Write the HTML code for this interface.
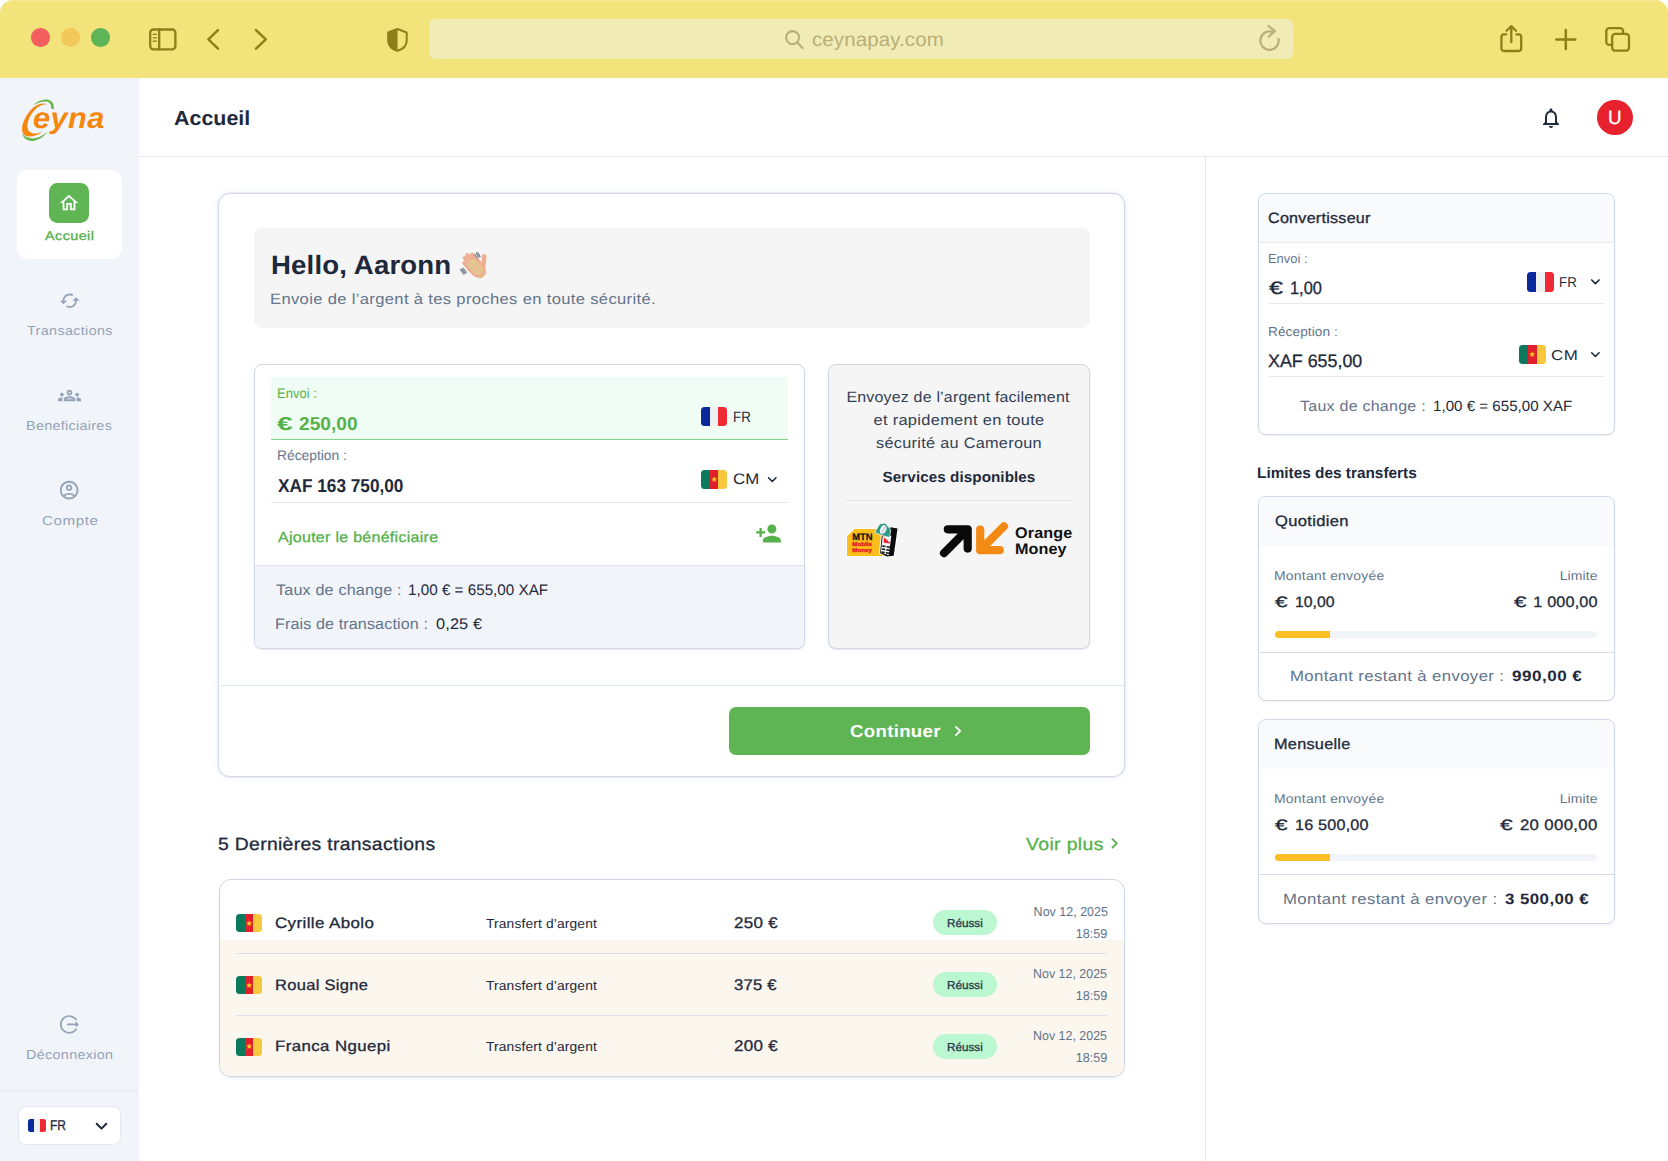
<!DOCTYPE html>
<html lang="fr">
<head>
<meta charset="utf-8">
<title>Ceyna Pay - Accueil</title>
<style>

*{box-sizing:border-box;margin:0;padding:0}
html,body{width:1668px;height:1161px;overflow:hidden;background:#fff}
body{font-family:"Liberation Sans",sans-serif;-webkit-font-smoothing:antialiased;text-rendering:geometricPrecision}
.page{position:relative;width:1668px;height:1161px;overflow:hidden;background:#fff}
.b{position:absolute;display:block}
.t{position:absolute;white-space:nowrap;display:block}
svg{position:absolute;overflow:visible;display:block}

</style>
</head>
<body>
<div class="page">

<!-- browser toolbar -->
<div class="b" style="left:0px;top:0px;width:1668px;height:78px;background:#f2e37a;border-radius:13px 13px 0 0;box-shadow:inset 0 1px 0 #f3e89a;"></div>
<div class="b" style="left:31.3px;top:28.3px;width:18.4px;height:18.4px;background:#f25f5e;border-radius:50%;"></div>
<div class="b" style="left:61.3px;top:28.3px;width:18.4px;height:18.4px;background:#f2c85a;border-radius:50%;"></div>
<div class="b" style="left:91.3px;top:28.3px;width:18.4px;height:18.4px;background:#5fb458;border-radius:50%;"></div>
<div class="b" style="left:429px;top:19.2px;width:864px;height:39.4px;background:#f1ebb6;border-radius:6px;"></div>

<!-- sidebar -->
<div class="b" style="left:0px;top:78px;width:139px;height:1083px;background:#f1f5f9;"></div>
<div class="b" style="left:17.2px;top:170.2px;width:104.5px;height:88.7px;background:#fff;border-radius:11px;"></div>
<div class="b" style="left:49.2px;top:183.2px;width:40.0px;height:40.0px;background:#5fb553;border-radius:8.5px;"></div>
<div class="b" style="left:0px;top:1090.5px;width:139px;height:1.0px;background:#e6ebf2;"></div>
<div class="b" style="left:18.1px;top:1106.3px;width:102.6px;height:39.0px;background:#fff;border:1px solid #e3e8f0;border-radius:8px;"></div>

<!-- header -->
<div class="b" style="left:139px;top:155.5px;width:1529px;height:1.0px;background:#e2e8f0;"></div>
<div class="b" style="left:1205px;top:156px;width:1px;height:1005px;background:#e2e8f0;"></div>
<div class="b" style="left:1597.2px;top:99.8px;width:35.6px;height:35.6px;background:#e8212e;border-radius:50%;"></div>

<!-- main card -->
<div class="b" style="left:218.4px;top:192.5px;width:906.8px;height:584.1px;background:#fff;border:1px solid #d3dbe8;border-radius:12px;box-shadow:0 0 0 .45px #dde4ee,0 0 7px rgba(100,116,139,.11);"></div>
<div class="b" style="left:253.6px;top:228.2px;width:836.4px;height:99.4px;background:#f5f5f5;border-radius:8px;"></div>
<div class="b" style="left:253.8px;top:363.8px;width:551.4px;height:285.0px;background:#fff;border:1px solid #cfd8e6;border-radius:8px;overflow:hidden;box-shadow:0 1px 2px rgba(100,116,139,.15);"><div class="b" style="left:0;right:0;top:199.8px;bottom:0;background:#f1f5f9;border-top:1px solid #dfe5ee"></div></div>
<div class="b" style="left:271.3px;top:376.6px;width:516.7px;height:63.2px;background:#f0fdf4;border-radius:4px 4px 0 0;border-bottom:1.3px solid #86d48a;"></div>
<div class="b" style="left:271.3px;top:501.6px;width:516.7px;height:1.0px;background:#e2e8f0;"></div>
<div class="b" style="left:827.5px;top:363.8px;width:262.3px;height:285.0px;background:#f5f5f5;border:1px solid #cfd8e6;border-radius:8px;box-shadow:0 1px 2px rgba(100,116,139,.15);"></div>
<div class="b" style="left:845px;top:500px;width:227px;height:1px;background:#e2e8f0;"></div>
<div class="b" style="left:219.5px;top:684.5px;width:904.7px;height:1.0px;background:#e2e8f0;"></div>
<div class="b" style="left:729px;top:706.6px;width:361px;height:48.2px;background:#5fb553;border-radius:7px;"></div>

<!-- transactions table -->
<div class="b" style="left:218.5px;top:879px;width:906.7px;height:197.8px;background:#fff;border:1px solid #cfd8e6;border-radius:12px;overflow:hidden;box-shadow:0 1px 2px rgba(100,116,139,.15);"><div class="b" style="left:0;right:0;top:60px;bottom:0;background:#fbf6ee"></div></div>
<div class="b" style="left:236px;top:953px;width:871.4px;height:1px;background:#d9e0ea;"></div>
<div class="b" style="left:236px;top:1014.6px;width:871.4px;height:1.0px;background:#d9e0ea;"></div>
<div class="b" style="left:933.2px;top:909.9px;width:63.9px;height:25.4px;background:#bbf7d0;border-radius:13px;"></div>
<div class="b" style="left:933.2px;top:972px;width:63.9px;height:25.4px;background:#bbf7d0;border-radius:13px;"></div>
<div class="b" style="left:933.2px;top:1033.8px;width:63.9px;height:25.4px;background:#bbf7d0;border-radius:13px;"></div>

<!-- right panel -->
<div class="b" style="left:1257.8px;top:192.8px;width:357.0px;height:242.0px;background:#fff;border:1px solid #cfd8e6;border-radius:8px;overflow:hidden;box-shadow:0 1px 2px rgba(100,116,139,.12);"><div class="b" style="left:0;right:0;top:0;height:49.6px;background:#f8fafc;border-bottom:1px solid #e2e8f0"></div></div>
<div class="b" style="left:1268.8px;top:303px;width:335.4px;height:1px;background:#e2e8f0;"></div>
<div class="b" style="left:1268.8px;top:375.6px;width:335.4px;height:1.0px;background:#e2e8f0;"></div>
<div class="b" style="left:1257.8px;top:496px;width:357.0px;height:205px;background:#fff;border:1px solid #cfd8e6;border-radius:8px;overflow:hidden;box-shadow:0 1px 2px rgba(100,116,139,.12);"><div class="b" style="left:0;right:0;top:0;height:48.600px;background:#f8fafc"></div></div>
<div class="b" style="left:1275.2px;top:631.4px;width:322.2px;height:7.0px;background:#f1f5f9;border-radius:4px;overflow:hidden;"><div class="b" style="left:0;top:0;bottom:0;width:55px;background:#fbbf24"></div></div>
<div class="b" style="left:1258.8px;top:651.6px;width:355.0px;height:1.0px;background:#d5dde8;"></div>
<div class="b" style="left:1257.8px;top:719px;width:357.0px;height:205px;background:#fff;border:1px solid #cfd8e6;border-radius:8px;overflow:hidden;box-shadow:0 1px 2px rgba(100,116,139,.12);"><div class="b" style="left:0;right:0;top:0;height:48.600px;background:#f8fafc"></div></div>
<div class="b" style="left:1275.2px;top:854.4px;width:322.2px;height:7.0px;background:#f1f5f9;border-radius:4px;overflow:hidden;"><div class="b" style="left:0;top:0;bottom:0;width:55px;background:#fbbf24"></div></div>
<div class="b" style="left:1258.8px;top:874.3000000000001px;width:355.0px;height:1.0px;background:#d5dde8;"></div>

<!-- toolbar icons -->
<svg style="left:0px;top:0px" width="1668" height="78" viewBox="0 0 1668 78" ><g fill="none" stroke="#8f7f1b" stroke-width="2.3" stroke-linecap="round" stroke-linejoin="round"><rect x="150.2" y="29.5" width="25.2" height="19.8" rx="3.2"/><path d="M159.2 29.5V49.3"/><path stroke-width="1.3" d="M153.2 34.4h3.3M153.2 37.8h3.3M153.2 41.2h3.3"/><path stroke-width="2.5" d="M218 30.2 208.4 39.4 218 48.6"/><path stroke-width="2.5" d="M256 30.2 265.8 39.4 256 48.6"/><path d="M1506.2 34.4h-2.4a2.4 2.4 0 0 0-2.4 2.4v11.8a2.4 2.4 0 0 0 2.4 2.4h15a2.4 2.4 0 0 0 2.4-2.4V36.800a2.4 2.4 0 0 0-2.4-2.4h-2.400"/><path d="M1511.300 42.200V26.400M1506.600 30.800 1511.300 26.100 1516 30.800"/><path stroke-width="2.5" d="M1556.300 39.400h19M1565.800 29.900v19"/><rect x="1606.300" y="28.100" width="16.800" height="16.800" rx="3"/><rect x="1612.200" y="33.900" width="16.800" height="16.800" rx="3" fill="#f2e37a"/></g><path d="M397.500 29 388.300 32.500V40.500C388.300 45.600 392.300 49.300 397.500 50.800 402.700 49.300 406.700 45.600 406.700 40.500V32.500Z" fill="none" stroke="#8f7f1b" stroke-width="2" stroke-linejoin="round"/><path d="M397.500 28.300 387.500 32V40.500C387.500 46 391.800 50.100 397.500 51.700Z" fill="#8f7f1b"/><g fill="none" stroke="#b9af78" stroke-width="2.1" stroke-linecap="round"><circle cx="792.600" cy="37.600" r="6.500"/><path d="M797.400 42.600 802.600 47.900"/><path stroke-width="2.200" stroke-linejoin="round" d="M1278.600 39.200A9.200 9.200 0 1 1 1271.800 31.700M1268.500 26 1274.900 31.200 1268.700 36.600"/></g></svg>

<!-- sidebar icons -->
<svg style="left:58.1px;top:192.36px" width="22" height="22" viewBox="0 0 24 24" ><path fill="#fff" d="m12 5.69 5 4.5V18h-2v-6H9v6H7v-7.81zM12 3 2 12h3v8h6v-6h2v6h6v-8h3z"/></svg>
<svg style="left:58.85px;top:289.85px" width="21.5" height="21.5" viewBox="0 0 24 24" ><path fill="#94a3b8" d="m19 8-4 4h3c0 3.310-2.690 6-6 6-1.010 0-1.970-.25-2.800-.7l-1.460 1.460C8.970 19.540 10.430 20 12 20c4.420 0 8-3.580 8-8h3zM6 12c0-3.310 2.690-6 6-6 1.010 0 1.970.25 2.800.7l1.460-1.460C15.030 4.460 13.570 4 12 4c-4.420 0-8 3.580-8 8H1l4 4 4-4z"/></svg>
<svg style="left:58.0px;top:384.1px" width="23" height="23" viewBox="0 0 24 24" ><path fill="#94a3b8" d="M4 13c1.100 0 2-.9 2-2s-.9-2-2-2-2 .9-2 2 .9 2 2 2m1.130 1.100c-.37-.06-.74-.1-1.130-.1-.99 0-1.930.21-2.780.58C.48 14.900 0 15.620 0 16.430V18h4.500v-1.610c0-.83.23-1.610.63-2.290M20 13c1.100 0 2-.9 2-2s-.9-2-2-2-2 .9-2 2 .9 2 2 2m4 3.430c0-.81-.48-1.530-1.220-1.850-.85-.37-1.790-.58-2.780-.58-.39 0-.76.040-1.130.1.400.68.630 1.460.630 2.290V18H24zm-7.760-2.780c-1.170-.52-2.610-.9-4.240-.9s-3.070.39-4.240.9C6.680 14.130 6 15.210 6 16.390V18h12v-1.610c0-1.180-.68-2.260-1.760-2.740M8.070 16c.09-.23.13-.39.910-.69.970-.38 1.990-.56 3.020-.56s2.050.18 3.020.56c.77.300.81.460.91.690zM12 8c.55 0 1 .45 1 1s-.45 1-1 1-1-.45-1-1 .45-1 1-1m0-2c-1.660 0-3 1.340-3 3s1.340 3 3 3 3-1.340 3-3-1.340-3-3-3"/></svg>
<svg style="left:58.35px;top:479.05px" width="22.3" height="22.3" viewBox="0 0 24 24" ><path fill="#94a3b8" d="M12 2C6.480 2 2 6.480 2 12s4.480 10 10 10 10-4.480 10-10S17.520 2 12 2M7.350 18.500C8.660 17.560 10.260 17 12 17s3.340.56 4.650 1.500c-1.310.94-2.910 1.500-4.650 1.500s-3.340-.56-4.650-1.500m10.790-1.380C16.450 15.800 14.320 15 12 15s-4.450.8-6.140 2.120C4.700 15.730 4 13.950 4 12c0-4.420 3.580-8 8-8s8 3.580 8 8c0 1.950-.7 3.730-1.860 5.120M12 6c-1.930 0-3.500 1.570-3.500 3.500S10.070 13 12 13s3.500-1.570 3.500-3.500S13.930 6 12 6m0 5c-.83 0-1.500-.67-1.500-1.500S11.170 8 12 8s1.500.67 1.500 1.500S12.830 11 12 11"/></svg>
<svg style="left:58px;top:1013px" width="24" height="24" viewBox="0 0 24 24" ><g fill="none" stroke="#94a3b8" stroke-width="1.7" stroke-linecap="round" stroke-linejoin="round"><path d="M18.100 6.600A8.400 8.400 0 1 0 18.100 16.200"/><path d="M9.800 11.400h9.200"/></g><path fill="#94a3b8" d="M17.600 8.300 20.900 11.400 17.600 14.500Z"/></svg>
<svg style="left:1539.0px;top:105.55px" width="24" height="24" viewBox="0 0 24 24" ><path fill="#1e293b" d="M12 22c1.100 0 2-.9 2-2h-4c0 1.100.9 2 2 2m6-6v-5c0-3.070-1.630-5.640-4.500-6.320V4c0-.83-.67-1.500-1.500-1.500s-1.500.67-1.500 1.500v.68C7.640 5.360 6 7.920 6 11v5l-2 2v1h16v-1zm-2 1H8v-6c0-2.480 1.510-4.500 4-4.500s4 2.020 4 4.500z"/></svg>
<svg style="left:754.5px;top:520.1px" width="27" height="27" viewBox="0 0 24 24" ><path fill="#55b14a" d="M15 12c2.210 0 4-1.790 4-4s-1.790-4-4-4-4 1.790-4 4 1.790 4 4 4m-9-2V7H4v3H1v2h3v3h2v-3h3v-2zm9 4c-2.670 0-8 1.340-8 4v2h16v-2c0-2.660-5.330-4-8-4"/></svg>
<svg style="left:0px;top:0px" width="1" height="1" viewBox="0 0 1 1" ><path d="M96.70 1123.80 101.50 1128.60 106.30 1123.80" fill="none" stroke="#1e293b" stroke-width="2" stroke-linecap="round" stroke-linejoin="round"/></svg>
<svg style="left:0px;top:0px" width="1" height="1" viewBox="0 0 1 1" ><path d="M768.60 477.75 772.30 481.45 776.00 477.75" fill="none" stroke="#1e293b" stroke-width="1.6" stroke-linecap="round" stroke-linejoin="round"/></svg>
<svg style="left:0px;top:0px" width="1" height="1" viewBox="0 0 1 1" ><path d="M1591.70 279.95 1595.40 283.65 1599.10 279.95" fill="none" stroke="#1e293b" stroke-width="1.6" stroke-linecap="round" stroke-linejoin="round"/></svg>
<svg style="left:0px;top:0px" width="1" height="1" viewBox="0 0 1 1" ><path d="M1591.70 352.75 1595.40 356.45 1599.10 352.75" fill="none" stroke="#1e293b" stroke-width="1.6" stroke-linecap="round" stroke-linejoin="round"/></svg>
<svg style="left:0px;top:0px" width="1" height="1" viewBox="0 0 1 1" ><path d="M955.90 726.80 960.10 731.00 955.90 735.20" fill="none" stroke="#fff" stroke-width="1.8" stroke-linecap="round" stroke-linejoin="round"/></svg>
<svg style="left:0px;top:0px" width="1" height="1" viewBox="0 0 1 1" ><path d="M1112.45 839.10 1116.75 843.40 1112.45 847.70" fill="none" stroke="#55b14a" stroke-width="1.8" stroke-linecap="round" stroke-linejoin="round"/></svg>

<!-- flags -->
<div class="b" style="left:28.4px;top:1119.3px;width:18.1px;height:12.7px;border-radius:2.5px;overflow:hidden;background:linear-gradient(90deg,#0a2a9c 0 34%,#eef0f2 34% 66%,#ee2a35 66% 100%);"></div>
<div class="b" style="left:700.6px;top:406.6px;width:26.4px;height:19.2px;border-radius:3.5px;overflow:hidden;background:linear-gradient(90deg,#0a2a9c 0 34%,#eef0f2 34% 66%,#ee2a35 66% 100%);"></div>
<div class="b" style="left:700.6px;top:469.8px;width:26.4px;height:18.8px;border-radius:3.5px;overflow:hidden;background:linear-gradient(90deg,#0b7a5c 0 34%,#e21f2d 34% 66%,#f7c73e 66% 100%);"><svg style="left:10.00px;top:6.20px" width="6.4" height="6.4" viewBox="0 0 10 10"><path fill="#fcd116" d="M5 0.300 6.200 3.700 9.800 3.800 6.900 6 8 9.500 5 7.400 2 9.500 3.100 6 .2 3.800 3.800 3.700Z"/></svg></div>
<div class="b" style="left:1526.5px;top:271.8px;width:27.0px;height:20.0px;border-radius:3.5px;overflow:hidden;background:linear-gradient(90deg,#0a2a9c 0 34%,#eef0f2 34% 66%,#ee2a35 66% 100%);"></div>
<div class="b" style="left:1518.6px;top:345px;width:27.0px;height:18.6px;border-radius:3.5px;overflow:hidden;background:linear-gradient(90deg,#0b7a5c 0 34%,#e21f2d 34% 66%,#f7c73e 66% 100%);"><svg style="left:10.30px;top:6.10px" width="6.4" height="6.4" viewBox="0 0 10 10"><path fill="#fcd116" d="M5 0.300 6.200 3.700 9.800 3.800 6.900 6 8 9.500 5 7.400 2 9.500 3.100 6 .2 3.800 3.800 3.700Z"/></svg></div>
<div class="b" style="left:236px;top:914px;width:26.4px;height:18px;border-radius:3.5px;overflow:hidden;background:linear-gradient(90deg,#0b7a5c 0 34%,#e21f2d 34% 66%,#f7c73e 66% 100%);"><svg style="left:10.00px;top:5.80px" width="6.4" height="6.4" viewBox="0 0 10 10"><path fill="#fcd116" d="M5 0.300 6.200 3.700 9.800 3.800 6.900 6 8 9.500 5 7.400 2 9.500 3.100 6 .2 3.800 3.800 3.700Z"/></svg></div>
<div class="b" style="left:236px;top:976px;width:26.4px;height:18px;border-radius:3.5px;overflow:hidden;background:linear-gradient(90deg,#0b7a5c 0 34%,#e21f2d 34% 66%,#f7c73e 66% 100%);"><svg style="left:10.00px;top:5.80px" width="6.4" height="6.4" viewBox="0 0 10 10"><path fill="#fcd116" d="M5 0.300 6.200 3.700 9.800 3.800 6.900 6 8 9.500 5 7.400 2 9.500 3.100 6 .2 3.800 3.800 3.700Z"/></svg></div>
<div class="b" style="left:236px;top:1037.5px;width:26.4px;height:18.0px;border-radius:3.5px;overflow:hidden;background:linear-gradient(90deg,#0b7a5c 0 34%,#e21f2d 34% 66%,#f7c73e 66% 100%);"><svg style="left:10.00px;top:5.80px" width="6.4" height="6.4" viewBox="0 0 10 10"><path fill="#fcd116" d="M5 0.300 6.200 3.700 9.800 3.800 6.900 6 8 9.500 5 7.400 2 9.500 3.100 6 .2 3.800 3.800 3.700Z"/></svg></div>

<!-- ceyna logo -->
<svg style="left:0px;top:0px" width="1" height="1" viewBox="0 0 1 1" role="img" aria-label="Ceyna"><path fill="#f5870f" d="M47.600 104.300C43.500 102.600 38.400 103.200 33.600 107.300 28.400 111.700 23.400 119.600 22.200 126.600 21.300 132.400 23.700 136.300 28.800 136.600 33.400 136.800 38.400 135 42.600 131.800 38.400 133.400 34.900 134 32.300 133.200 28.500 132 26.800 128.900 27.400 124.600 28.200 118.700 32 112.300 36.800 108.100 40.100 105.200 43.900 104 47.600 104.300Z"/><path fill="#63b54a" d="M33.200 105C37 101.500 42.400 99.300 46.800 99.600 51.800 100 54.300 103.800 53.800 109.400L51.200 108.600C51.600 104.500 49.800 101.900 46.400 101.500 42.600 101 37.600 102.600 33.200 105Z"/><path fill="#63b54a" d="M22.300 133.600C23 137.800 26.300 140.600 31.300 140.900 37.200 141.200 43.600 137.400 48 131.300 43.600 135.600 37.800 138.600 32.400 138.400 27.600 138.200 24 136.500 22.300 133.600Z"/></svg>

<!-- wave hand -->
<svg style="left:0px;top:0px" width="1" height="1" viewBox="0 0 1 1" ><g transform="translate(476.600 268.300) rotate(-42)"><g fill="#eeae91"><rect x="-7.700" y="-14.200" width="3.900" height="14" rx="1.950"/><rect x="-3.850" y="-17.600" width="3.900" height="17" rx="1.950"/><rect x="0" y="-18" width="3.900" height="17" rx="1.950"/><rect x="3.850" y="-15.200" width="3.900" height="14" rx="1.950"/><path d="M-7.700 -6h15.450v8.200a7.700 7.700 0 0 1-15.450 0z"/><rect x="5.200" y="-8.800" width="4.600" height="13" rx="2.300" transform="rotate(47 7.500 2)"/></g><g fill="#dfd090" opacity=".62"><rect x="-5.200" y="-10" width="10.500" height="17" rx="4.500"/></g><path d="M-4.500 8.900a7.700 7.700 0 0 0 9.600 -.3" fill="none" stroke="#c9b03a" stroke-width="1.100" opacity=".75"/></g><g fill="none" stroke="#5d6878" stroke-width="1.050" stroke-linecap="round" opacity=".9"><path d="M474.800 254.200 477.400 258M476.200 252.800 479.100 257.200M477.700 252.500 480.200 256.700"/><path d="M460.300 269.700 464 274.100M461.700 268.900 465.300 273.400M463 268.200 466.500 272.500"/></g></svg>

<!-- service logos -->
<svg style="left:845px;top:522px" width="54" height="37" viewBox="0 0 54 37" ><path fill="#fdbe1b" stroke="#fff" stroke-width="1.6" stroke-linejoin="round" d="M2 14.300 9.500 7H38.500V33.900H2Z"/><path fill="#fdbe1b" d="M2 14.300 9.500 7H38.500V33.900H2Z"/><text x="7.300" y="18" font-family="Liberation Sans,sans-serif" font-weight="700" font-size="9.400" fill="#15110a" stroke="#15110a" stroke-width=".25">MTN</text><text x="7.300" y="24" font-family="Liberation Sans,sans-serif" font-weight="700" font-size="5.700" fill="#e6212b" stroke="#e6212b" stroke-width=".35" textLength="19.600" lengthAdjust="spacingAndGlyphs">Mobile</text><text x="7.300" y="30" font-family="Liberation Sans,sans-serif" font-weight="700" font-size="5.700" fill="#e6212b" stroke="#e6212b" stroke-width=".35" textLength="19.600" lengthAdjust="spacingAndGlyphs">Money</text><path fill="#fff" stroke="#fff" stroke-width="2" stroke-linejoin="round" d="M36.800 13.400 45.800 5.200 52.500 6.400 48.700 33.700 42 34.600 35.100 31.200Z"/><path fill="#0b0b0d" d="M36.800 13.400 45.800 5.200 52.500 6.400 48.700 33.700 42 34.600 35.100 31.200Z"/><path fill="#f3f5f7" d="M37.700 14.300 46.300 13.800 43.800 33.200 35.900 30.600Z"/><path fill="#2f9b86" stroke="#fff" stroke-width=".7" d="M29.700 10.500 34.700 1.900 40.100 1 45.800 7.600 44.600 15.500 36.800 13.400Z"/><ellipse cx="38.200" cy="7.600" rx="3" ry="4.600" transform="rotate(24 38.200 7.600)" fill="#eef2f3"/><path fill="#b9c4cc" d="M36.400 10.800 40.300 3.800 41.100 4.300 37.200 11.300Z"/><path fill="#ea232d" d="M39 15.300 45.800 21.500 38.600 20.700Z"/><g fill="#121216"><path d="M37.400 23.200 40.600 23.700 40.400 25.300 37.200 24.800Z"/><path d="M41.700 23.900 45.200 24.500 45 26.100 41.500 25.500Z"/><path d="M37 26.200 40.200 26.700 40 28.300 36.800 27.800Z"/><path d="M41.300 26.900 44.800 27.500 44.600 29.100 41.100 28.500Z"/><path d="M36.600 29.200 39.800 29.700 39.600 31.200 36.400 30.700Z"/><path d="M40.900 29.900 44.400 30.500 44.200 32.100 40.700 31.500Z"/></g></svg>
<svg style="left:0px;top:0px" width="1" height="1" viewBox="0 0 1 1" ><g fill="none" stroke-width="8.200" stroke-linecap="round" stroke-linejoin="round"><path stroke="#0a0a0a" d="M944 553.200 967.400 529.600M947.800 529.300H967.700V548.600"/><path stroke="#f28a13" d="M1003.900 526.400 980.200 550.200M980.200 529.600V550.200H999.800"/></g></svg>

<!-- text layer -->
<span class="t" style="top:26.95px;font-size:19.48px;line-height:27px;color:#b9af78;left:811.50px;transform-origin:0 50%;transform:scaleX(1.0489);letter-spacing:0.137px;">ceynapay.com</span>
<span class="t" style="top:98.43px;font-size:29.36px;line-height:41px;color:#f5870f;font-weight:700;font-style:italic;left:33.40px;transform-origin:0 50%;transform:scaleX(1.0459);letter-spacing:0.448px;">eyna</span>
<span class="t" style="top:227.22px;font-size:12.65px;line-height:18px;color:#55b14a;left:45.35px;transform-origin:0 50%;transform:scaleX(1.1419);letter-spacing:0.343px;-webkit-text-stroke:0.3px currentColor;">Accueil</span>
<span class="t" style="top:322.32px;font-size:12.94px;line-height:18px;color:#94a3b8;left:26.95px;transform-origin:0 50%;transform:scaleX(1.1129);letter-spacing:0.297px;">Transactions</span>
<span class="t" style="top:417.32px;font-size:12.94px;line-height:18px;color:#94a3b8;left:26.44px;transform-origin:0 50%;transform:scaleX(1.1143);letter-spacing:0.248px;">Beneficiaires</span>
<span class="t" style="top:512.12px;font-size:12.94px;line-height:18px;color:#94a3b8;left:41.55px;transform-origin:0 50%;transform:scaleX(1.1752);letter-spacing:0.450px;">Compte</span>
<span class="t" style="top:1045.52px;font-size:12.94px;line-height:18px;color:#94a3b8;left:25.76px;transform-origin:0 50%;transform:scaleX(1.1105);letter-spacing:0.290px;">Déconnexion</span>
<span class="t" style="top:1115.41px;font-size:14.1px;line-height:20px;color:#1e293b;left:50.00px;transform-origin:0 50%;transform:scaleX(0.8511);-webkit-text-stroke:0.3px currentColor;">FR</span>
<span class="t" style="top:104.95px;font-size:20.35px;line-height:28px;color:#1e293b;font-weight:700;left:173.65px;transform-origin:0 50%;transform:scaleX(1.0503);letter-spacing:0.046px;">Accueil</span>
<span class="t" style="top:105.40px;font-size:19.33px;line-height:27px;color:#fff;left:1608.40px;transform-origin:0 50%;transform:scaleX(0.9736);-webkit-text-stroke:0.3px currentColor;">U</span>
<span class="t" style="top:246.54px;font-size:26.45px;line-height:37px;color:#1e293b;font-weight:700;left:270.60px;transform-origin:0 50%;transform:scaleX(1.0438);letter-spacing:0.145px;">Hello, Aaronn</span>
<span class="t" style="top:288.71px;font-size:14.97px;line-height:21px;color:#64748b;left:270.11px;transform-origin:0 50%;transform:scaleX(1.1085);letter-spacing:0.300px;">Envoie de l’argent à tes proches en toute sécurité.</span>
<span class="t" style="top:383.91px;font-size:13.81px;line-height:19px;color:#55b14a;left:277.00px;transform-origin:0 50%;transform:scaleX(0.9439);">Envoi :</span>
<span class="t" style="top:410.84px;font-size:18.6px;line-height:26px;color:#55b14a;font-weight:700;left:277.32px;transform-origin:0 50%;transform:scaleX(1.5168);">€</span>
<span class="t" style="top:410.76px;font-size:18.6px;line-height:26px;color:#55b14a;font-weight:700;left:298.68px;transform-origin:0 50%;transform:scaleX(1.0296);">250,00</span>
<span class="t" style="top:406.56px;font-size:14.97px;line-height:21px;color:#1e293b;left:733.30px;transform-origin:0 50%;transform:scaleX(0.8889);">FR</span>
<span class="t" style="top:446.11px;font-size:13.81px;line-height:19px;color:#64748b;left:277.00px;transform-origin:0 50%;transform:scaleX(1.0007);">Réception :</span>
<span class="t" style="top:473.07px;font-size:18.6px;line-height:26px;color:#1e293b;font-weight:700;left:277.53px;transform-origin:0 50%;transform:scaleX(0.9262);">XAF 163 750,00</span>
<span class="t" style="top:469.37px;font-size:15.12px;line-height:21px;color:#1e293b;left:732.76px;transform-origin:0 50%;transform:scaleX(1.1118);letter-spacing:0.090px;">CM</span>
<span class="t" style="top:528.22px;font-size:14.53px;line-height:20px;color:#55b14a;left:278.09px;transform-origin:0 50%;transform:scaleX(1.1013);letter-spacing:0.261px;-webkit-text-stroke:0.3px currentColor;">Ajouter le bénéficiaire</span>
<span class="t" style="top:579.79px;font-size:15.33px;line-height:21px;color:#64748b;left:276.45px;transform-origin:0 50%;transform:scaleX(1.0564);letter-spacing:0.139px;">Taux de change :</span>
<span class="t" style="top:579.79px;font-size:15.33px;line-height:21px;color:#1e293b;left:408.12px;transform-origin:0 50%;transform:scaleX(0.9937);">1,00 € = 655,00 XAF</span>
<span class="t" style="top:614.39px;font-size:15.33px;line-height:21px;color:#64748b;left:275.00px;transform-origin:0 50%;transform:scaleX(1.0526);letter-spacing:0.101px;">Frais de transaction :</span>
<span class="t" style="top:614.39px;font-size:15.33px;line-height:21px;color:#1e293b;left:435.83px;transform-origin:0 50%;transform:scaleX(1.0669);letter-spacing:0.119px;">0,25 €</span>
<span class="t" style="top:387.31px;font-size:14.97px;line-height:21px;color:#334155;left:958.23px;transform:translateX(-50%) scaleX(1.0660);letter-spacing:0.184px;">Envoyez de l’argent facilement</span>
<span class="t" style="top:410.31px;font-size:14.97px;line-height:21px;color:#334155;left:958.60px;transform:translateX(-50%) scaleX(1.0980);letter-spacing:0.270px;">et rapidement en toute</span>
<span class="t" style="top:433.06px;font-size:14.97px;line-height:21px;color:#334155;left:958.53px;transform:translateX(-50%) scaleX(1.0875);letter-spacing:0.261px;">sécurité au Cameroun</span>
<span class="t" style="top:468.49px;font-size:14.83px;line-height:21px;color:#1e293b;font-weight:700;left:958.87px;transform:translateX(-50%) scaleX(1.0287);letter-spacing:0.050px;">Services disponibles</span>
<span class="t" style="top:526.83px;font-size:15.26px;line-height:14px;color:#111;font-weight:700;left:1015.14px;transform-origin:0 50%;transform:scaleX(1.0611);letter-spacing:0.121px;">Orange</span>
<span class="t" style="top:542.91px;font-size:15.26px;line-height:14px;color:#111;font-weight:700;left:1015.03px;transform-origin:0 50%;transform:scaleX(1.0601);letter-spacing:0.098px;">Money</span>
<span class="t" style="top:718.91px;font-size:17.3px;line-height:24px;color:#fff;font-weight:700;left:850.26px;transform-origin:0 50%;transform:scaleX(1.0794);letter-spacing:0.273px;">Continuer</span>
<span class="t" style="top:832.36px;font-size:17.73px;line-height:25px;color:#1e293b;left:217.65px;transform-origin:0 50%;transform:scaleX(1.0914);letter-spacing:0.299px;-webkit-text-stroke:0.3px currentColor;">5 Dernières transactions</span>
<span class="t" style="top:831.96px;font-size:17.44px;line-height:24px;color:#55b14a;left:1025.66px;transform-origin:0 50%;transform:scaleX(1.1121);letter-spacing:0.338px;-webkit-text-stroke:0.3px currentColor;">Voir plus</span>
<span class="t" style="top:912.71px;font-size:14.97px;line-height:21px;color:#1e293b;left:275.23px;transform-origin:0 50%;transform:scaleX(1.1320);letter-spacing:0.342px;-webkit-text-stroke:0.3px currentColor;">Cyrille Abolo</span>
<span class="t" style="top:914.87px;font-size:13.08px;line-height:18px;color:#1e293b;left:485.79px;transform-origin:0 50%;transform:scaleX(1.0563);letter-spacing:0.130px;">Transfert d’argent</span>
<span class="t" style="top:913.06px;font-size:15.41px;line-height:22px;color:#1e293b;left:734.39px;transform-origin:0 50%;transform:scaleX(1.1005);letter-spacing:0.265px;-webkit-text-stroke:0.3px currentColor;">250 €</span>
<span class="t" style="top:916.02px;font-size:11.48px;line-height:16px;color:#27374a;left:947.32px;transform-origin:0 50%;transform:scaleX(1.0213);-webkit-text-stroke:0.3px currentColor;">Réussi</span>
<span class="t" style="top:902.72px;font-size:12.94px;line-height:18px;color:#64748b;right:560.27px;transform-origin:100% 50%;transform:scaleX(0.9659);">Nov 12, 2025</span>
<span class="t" style="top:925.02px;font-size:12.94px;line-height:18px;color:#64748b;right:560.40px;transform-origin:100% 50%;transform:scaleX(0.9773);">18:59</span>
<span class="t" style="top:974.51px;font-size:14.97px;line-height:21px;color:#1e293b;left:274.90px;transform-origin:0 50%;transform:scaleX(1.1023);letter-spacing:0.280px;-webkit-text-stroke:0.3px currentColor;">Roual Signe</span>
<span class="t" style="top:976.67px;font-size:13.08px;line-height:18px;color:#1e293b;left:485.79px;transform-origin:0 50%;transform:scaleX(1.0563);letter-spacing:0.130px;">Transfert d’argent</span>
<span class="t" style="top:974.86px;font-size:15.41px;line-height:22px;color:#1e293b;left:734.29px;transform-origin:0 50%;transform:scaleX(1.0817);letter-spacing:0.198px;-webkit-text-stroke:0.3px currentColor;">375 €</span>
<span class="t" style="top:977.82px;font-size:11.48px;line-height:16px;color:#27374a;left:947.32px;transform-origin:0 50%;transform:scaleX(1.0213);-webkit-text-stroke:0.3px currentColor;">Réussi</span>
<span class="t" style="top:964.62px;font-size:12.94px;line-height:18px;color:#64748b;right:560.84px;transform-origin:100% 50%;transform:scaleX(0.9609);">Nov 12, 2025</span>
<span class="t" style="top:986.92px;font-size:12.94px;line-height:18px;color:#64748b;right:560.40px;transform-origin:100% 50%;transform:scaleX(0.9773);">18:59</span>
<span class="t" style="top:1035.71px;font-size:14.97px;line-height:21px;color:#1e293b;left:275.03px;transform-origin:0 50%;transform:scaleX(1.1234);letter-spacing:0.375px;-webkit-text-stroke:0.3px currentColor;">Franca Nguepi</span>
<span class="t" style="top:1037.87px;font-size:13.08px;line-height:18px;color:#1e293b;left:485.79px;transform-origin:0 50%;transform:scaleX(1.0563);letter-spacing:0.130px;">Transfert d’argent</span>
<span class="t" style="top:1036.46px;font-size:15.41px;line-height:22px;color:#1e293b;left:734.40px;transform-origin:0 50%;transform:scaleX(1.1003);letter-spacing:0.265px;-webkit-text-stroke:0.3px currentColor;">200 €</span>
<span class="t" style="top:1039.77px;font-size:11.48px;line-height:16px;color:#27374a;left:947.32px;transform-origin:0 50%;transform:scaleX(1.0213);-webkit-text-stroke:0.3px currentColor;">Réussi</span>
<span class="t" style="top:1027.32px;font-size:12.94px;line-height:18px;color:#64748b;right:560.84px;transform-origin:100% 50%;transform:scaleX(0.9609);">Nov 12, 2025</span>
<span class="t" style="top:1048.72px;font-size:12.94px;line-height:18px;color:#64748b;right:560.40px;transform-origin:100% 50%;transform:scaleX(0.9773);">18:59</span>
<span class="t" style="top:207.91px;font-size:14.97px;line-height:21px;color:#1e293b;left:1267.97px;transform-origin:0 50%;transform:scaleX(1.0776);letter-spacing:0.226px;-webkit-text-stroke:0.3px currentColor;">Convertisseur</span>
<span class="t" style="top:250.32px;font-size:12.94px;line-height:18px;color:#64748b;left:1268.42px;transform-origin:0 50%;transform:scaleX(0.9978);">Envoi :</span>
<span class="t" style="top:276.34px;font-size:18.02px;line-height:25px;color:#1e293b;left:1268.55px;transform-origin:0 50%;transform:scaleX(1.3942);-webkit-text-stroke:0.3px currentColor;">€</span>
<span class="t" style="top:276.26px;font-size:18.02px;line-height:25px;color:#1e293b;left:1290.44px;transform-origin:0 50%;transform:scaleX(0.9098);-webkit-text-stroke:0.3px currentColor;">1,00</span>
<span class="t" style="top:272.67px;font-size:14.24px;line-height:20px;color:#1e293b;left:1559.08px;transform-origin:0 50%;transform:scaleX(0.9382);">FR</span>
<span class="t" style="top:322.52px;font-size:12.94px;line-height:18px;color:#64748b;left:1268.36px;transform-origin:0 50%;transform:scaleX(1.0564);letter-spacing:0.061px;">Réception :</span>
<span class="t" style="top:349.26px;font-size:18.02px;line-height:25px;color:#1e293b;left:1268.39px;transform-origin:0 50%;transform:scaleX(0.9911);-webkit-text-stroke:0.3px currentColor;">XAF 655,00</span>
<span class="t" style="top:345.82px;font-size:14.24px;line-height:20px;color:#1e293b;left:1550.83px;transform-origin:0 50%;transform:scaleX(1.1899);letter-spacing:0.450px;">CM</span>
<span class="t" style="top:396.76px;font-size:14.83px;line-height:21px;color:#64748b;left:1300.13px;transform-origin:0 50%;transform:scaleX(1.0811);letter-spacing:0.215px;">Taux de change :</span>
<span class="t" style="top:396.76px;font-size:14.83px;line-height:21px;color:#1e293b;left:1432.71px;transform-origin:0 50%;transform:scaleX(1.0188);letter-spacing:0.013px;">1,00 € = 655,00 XAF</span>
<span class="t" style="top:462.61px;font-size:15.26px;line-height:21px;color:#1e293b;font-weight:700;left:1257.17px;transform-origin:0 50%;transform:scaleX(1.0077);">Limites des transferts</span>
<span class="t" style="top:511.06px;font-size:14.97px;line-height:21px;color:#1e293b;left:1274.75px;transform-origin:0 50%;transform:scaleX(1.1072);letter-spacing:0.290px;-webkit-text-stroke:0.3px currentColor;">Quotidien</span>
<span class="t" style="top:567.37px;font-size:12.79px;line-height:18px;color:#64748b;left:1274.00px;transform-origin:0 50%;transform:scaleX(1.0905);letter-spacing:0.217px;">Montant envoyée</span>
<span class="t" style="top:567.37px;font-size:12.79px;line-height:18px;color:#64748b;right:70.19px;transform-origin:100% 50%;transform:scaleX(1.0950);letter-spacing:0.102px;">Limite</span>
<span class="t" style="top:592.29px;font-size:15.04px;line-height:21px;color:#1e293b;left:1275.05px;transform-origin:0 50%;transform:scaleX(1.5049);-webkit-text-stroke:0.3px currentColor;">€</span>
<span class="t" style="top:592.29px;font-size:15.04px;line-height:21px;color:#1e293b;left:1294.65px;transform-origin:0 50%;transform:scaleX(1.0507);letter-spacing:0.013px;-webkit-text-stroke:0.3px currentColor;">10,00</span>
<span class="t" style="top:592.29px;font-size:15.04px;line-height:21px;color:#1e293b;left:1513.76px;transform-origin:0 50%;transform:scaleX(1.4874);-webkit-text-stroke:0.3px currentColor;">€</span>
<span class="t" style="top:592.29px;font-size:15.04px;line-height:21px;color:#1e293b;right:70.47px;transform-origin:100% 50%;transform:scaleX(1.0778);letter-spacing:0.149px;-webkit-text-stroke:0.3px currentColor;">1 000,00</span>
<span class="t" style="top:666.31px;font-size:14.97px;line-height:21px;color:#64748b;left:1289.83px;transform-origin:0 50%;transform:scaleX(1.1205);letter-spacing:0.337px;">Montant restant à envoyer :</span>
<span class="t" style="top:666.14px;font-size:14.97px;line-height:21px;color:#1e293b;font-weight:700;left:1512.34px;transform-origin:0 50%;transform:scaleX(1.1403);letter-spacing:0.429px;">990,00 €</span>
<span class="t" style="top:734.11px;font-size:14.97px;line-height:21px;color:#1e293b;left:1274.00px;transform-origin:0 50%;transform:scaleX(1.0885);letter-spacing:0.227px;-webkit-text-stroke:0.3px currentColor;">Mensuelle</span>
<span class="t" style="top:789.97px;font-size:12.79px;line-height:18px;color:#64748b;left:1274.00px;transform-origin:0 50%;transform:scaleX(1.0905);letter-spacing:0.217px;">Montant envoyée</span>
<span class="t" style="top:789.97px;font-size:12.79px;line-height:18px;color:#64748b;right:70.19px;transform-origin:100% 50%;transform:scaleX(1.0950);letter-spacing:0.102px;">Limite</span>
<span class="t" style="top:814.89px;font-size:15.04px;line-height:21px;color:#1e293b;left:1275.05px;transform-origin:0 50%;transform:scaleX(1.5049);-webkit-text-stroke:0.3px currentColor;">€</span>
<span class="t" style="top:814.89px;font-size:15.04px;line-height:21px;color:#1e293b;left:1294.60px;transform-origin:0 50%;transform:scaleX(1.0759);letter-spacing:0.181px;-webkit-text-stroke:0.3px currentColor;">16 500,00</span>
<span class="t" style="top:814.89px;font-size:15.04px;line-height:21px;color:#1e293b;left:1500.05px;transform-origin:0 50%;transform:scaleX(1.5049);-webkit-text-stroke:0.3px currentColor;">€</span>
<span class="t" style="top:814.89px;font-size:15.04px;line-height:21px;color:#1e293b;right:70.70px;transform-origin:100% 50%;transform:scaleX(1.1162);letter-spacing:0.320px;-webkit-text-stroke:0.3px currentColor;">20 000,00</span>
<span class="t" style="top:888.91px;font-size:14.97px;line-height:21px;color:#64748b;left:1283.21px;transform-origin:0 50%;transform:scaleX(1.1215);letter-spacing:0.337px;">Montant restant à envoyer :</span>
<span class="t" style="top:889.11px;font-size:14.97px;line-height:21px;color:#1e293b;font-weight:700;left:1504.98px;transform-origin:0 50%;transform:scaleX(1.1281);letter-spacing:0.381px;">3 500,00 €</span>
</div>
</body>
</html>
